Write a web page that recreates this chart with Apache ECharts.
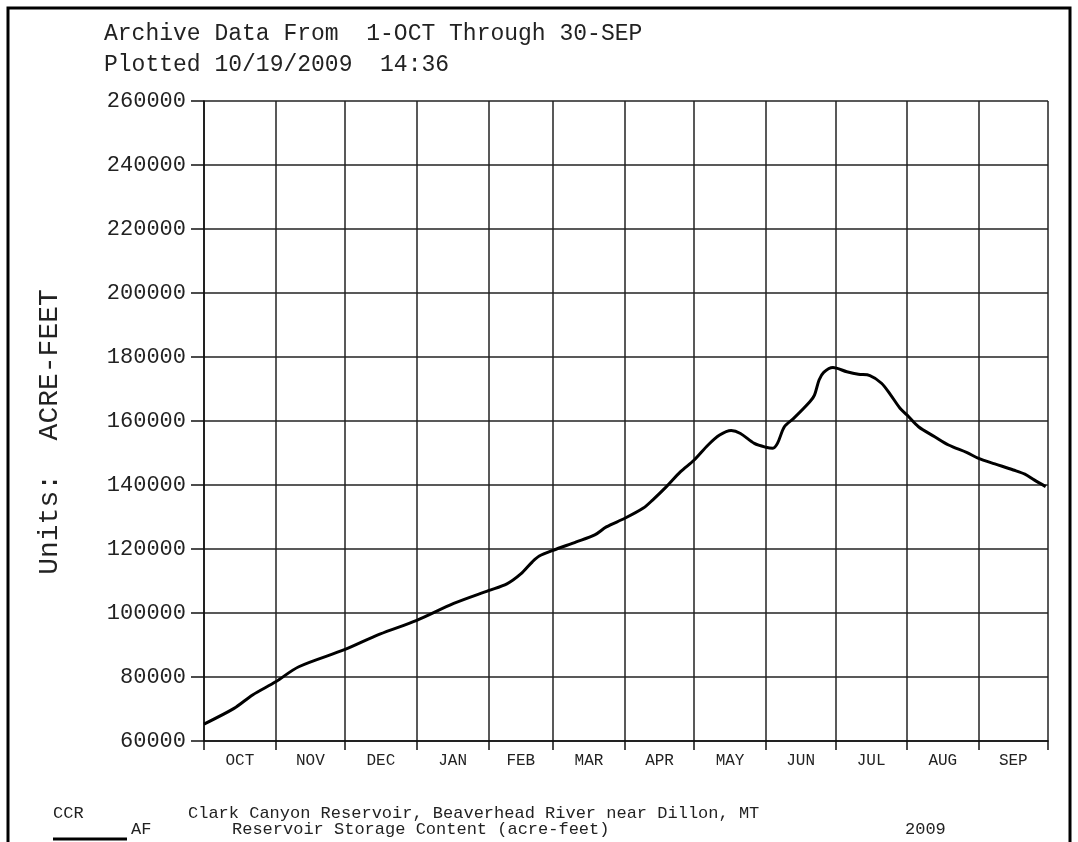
<!DOCTYPE html>
<html>
<head>
<meta charset="utf-8">
<title>Clark Canyon Reservoir storage</title>
<script src="https://cdn.jsdelivr.net/npm/echarts@6/dist/echarts.min.js"></script>
<style>
  html, body { margin: 0; padding: 0; background: #fff; }
  #main { width: 1078px; height: 842px; }
</style>
</head>
<body>
<div id="main"></div>
<script>
// water year 2009, Oct 2008 through Sep 2009
const monthStarts = [
  '2008-10-01', '2008-11-01', '2008-12-01', '2009-01-01', '2009-02-01', '2009-03-01',
  '2009-04-01', '2009-05-01', '2009-06-01', '2009-07-01', '2009-08-01', '2009-09-01',
  '2009-10-01'
];
const monthNames = ['OCT', 'NOV', 'DEC', 'JAN', 'FEB', 'MAR', 'APR', 'MAY', 'JUN', 'JUL', 'AUG', 'SEP'];
const yTicks = { min: 60000, max: 260000, step: 20000 };

// storage (acre-feet)
const dates = [
  '2008-10-01', '2008-10-14', '2008-10-22', '2008-11-01', '2008-11-11', '2008-12-01',
  '2008-12-16', '2009-01-01', '2009-01-17', '2009-02-01', '2009-02-09', '2009-02-15',
  '2009-02-20', '2009-02-23', '2009-03-01', '2009-03-11', '2009-03-19', '2009-03-24',
  '2009-04-01', '2009-04-09', '2009-04-13', '2009-04-19', '2009-04-25', '2009-05-01',
  '2009-05-07', '2009-05-12', '2009-05-17', '2009-05-21', '2009-05-27', '2009-06-01',
  '2009-06-04', '2009-06-06', '2009-06-09', '2009-06-13', '2009-06-20', '2009-06-22',
  '2009-06-24', '2009-06-26', '2009-06-30', '2009-07-06', '2009-07-11', '2009-07-16',
  '2009-07-21', '2009-07-25', '2009-07-29', '2009-08-01', '2009-08-06', '2009-08-13',
  '2009-08-19', '2009-08-27', '2009-09-01', '2009-09-08', '2009-09-16', '2009-09-21',
  '2009-09-25', '2009-09-30'
];
const storage = [
  65300, 70200, 74400, 78500, 83200, 88600,
  93400, 97700, 103000, 107000, 109100, 112200,
  116000, 117800, 119600, 122200, 124400, 126900,
  129600, 132800, 135300, 139500, 144100, 147800,
  152500, 155600, 157000, 156100, 153000, 151800,
  151500, 153000, 158200, 160800, 166000, 168100,
  172800, 175200, 176700, 175400, 174600, 174200,
  171800, 168100, 164000, 161900, 158200, 155100,
  152500, 150100, 148300, 146600, 144700, 143400,
  141600, 139500
];

const FONT = 'Liberation Mono';
const DAY = 86400000;

// day of water year, counted from 1 Oct
const dayOf = d => Math.round((Date.parse(d) - Date.parse(monthStarts[0])) / DAY);
const startDays = monthStarts.map(dayOf);
const midDays = startDays.slice(0, -1).map((t, i) => (t + startDays[i + 1]) / 2);

const chart = echarts.init(document.getElementById('main'), null, { renderer: 'canvas' });

const option = {
  backgroundColor: '#fff',
  animation: false,
  grid: { left: 204, right: 30, top: 101, bottom: 101, containLabel: false },
  xAxis: {
    type: 'value',
    min: startDays[0],
    max: startDays[startDays.length - 1],
    axisLine: { show: true, onZero: false, lineStyle: { color: '#111', width: 1.5 } },
    axisTick: {
      show: true, inside: false, length: 9,
      customValues: startDays,
      lineStyle: { color: '#111', width: 1.5 }
    },
    splitLine: { show: true, lineStyle: { color: '#222', width: 1.5 } },
    axisLabel: {
      customValues: midDays,
      margin: 12,
      fontFamily: FONT,
      fontSize: 16,
      color: '#222',
      formatter: v => monthNames[midDays.indexOf(v)]
    }
  },
  yAxis: {
    type: 'value',
    min: yTicks.min,
    max: yTicks.max,
    interval: yTicks.step,
    axisLine: { show: true, lineStyle: { color: '#111', width: 1.5 } },
    axisTick: { show: true, inside: false, length: 13, lineStyle: { color: '#111', width: 1.5 } },
    splitLine: { show: true, lineStyle: { color: '#222', width: 1.5 } },
    axisLabel: {
      margin: 18, fontFamily: FONT, fontSize: 22, color: '#222',
      formatter: v => String(v)
    }
  },
  series: [{
    type: 'line',
    name: 'AF',
    data: dates.map((d, i) => [dayOf(d), storage[i]]),
    showSymbol: false,
    smooth: 0.3,
    lineStyle: { color: '#000', width: 3 }
  }],
  graphic: [
    {
      type: 'rect',
      shape: { x: 8, y: 8, width: 1062, height: 860 },
      style: { fill: null, stroke: '#000', lineWidth: 3 },
      silent: true
    },
    {
      type: 'text', x: 50, y: 432, rotation: Math.PI / 2,
      style: {
        text: 'Units:  ACRE-FEET', font: '28px "' + FONT + '"', fill: '#222',
        align: 'center', verticalAlign: 'middle'
      }
    },
    {
      type: 'text', left: 104, top: 22,
      style: { text: 'Archive Data From  1-OCT Through 30-SEP', font: '23px "' + FONT + '"', fill: '#222' }
    },
    {
      type: 'text', left: 104, top: 53,
      style: { text: 'Plotted 10/19/2009  14:36', font: '23px "' + FONT + '"', fill: '#222' }
    },
    {
      type: 'text', left: 53, top: 805,
      style: { text: 'CCR', font: '17px "' + FONT + '"', fill: '#222' }
    },
    {
      type: 'text', left: 188, top: 805,
      style: { text: 'Clark Canyon Reservoir, Beaverhead River near Dillon, MT', font: '17px "' + FONT + '"', fill: '#222' }
    },
    {
      type: 'line',
      shape: { x1: 53, y1: 839, x2: 127, y2: 839 },
      style: { stroke: '#000', lineWidth: 3 }
    },
    {
      type: 'text', left: 131, top: 821,
      style: { text: 'AF', font: '17px "' + FONT + '"', fill: '#222' }
    },
    {
      type: 'text', left: 232, top: 821,
      style: { text: 'Reservoir Storage Content (acre-feet)', font: '17px "' + FONT + '"', fill: '#222' }
    },
    {
      type: 'text', left: 905, top: 821,
      style: { text: '2009', font: '17px "' + FONT + '"', fill: '#222' }
    }
  ]
};

chart.setOption(option);
</script>
</body>
</html>
